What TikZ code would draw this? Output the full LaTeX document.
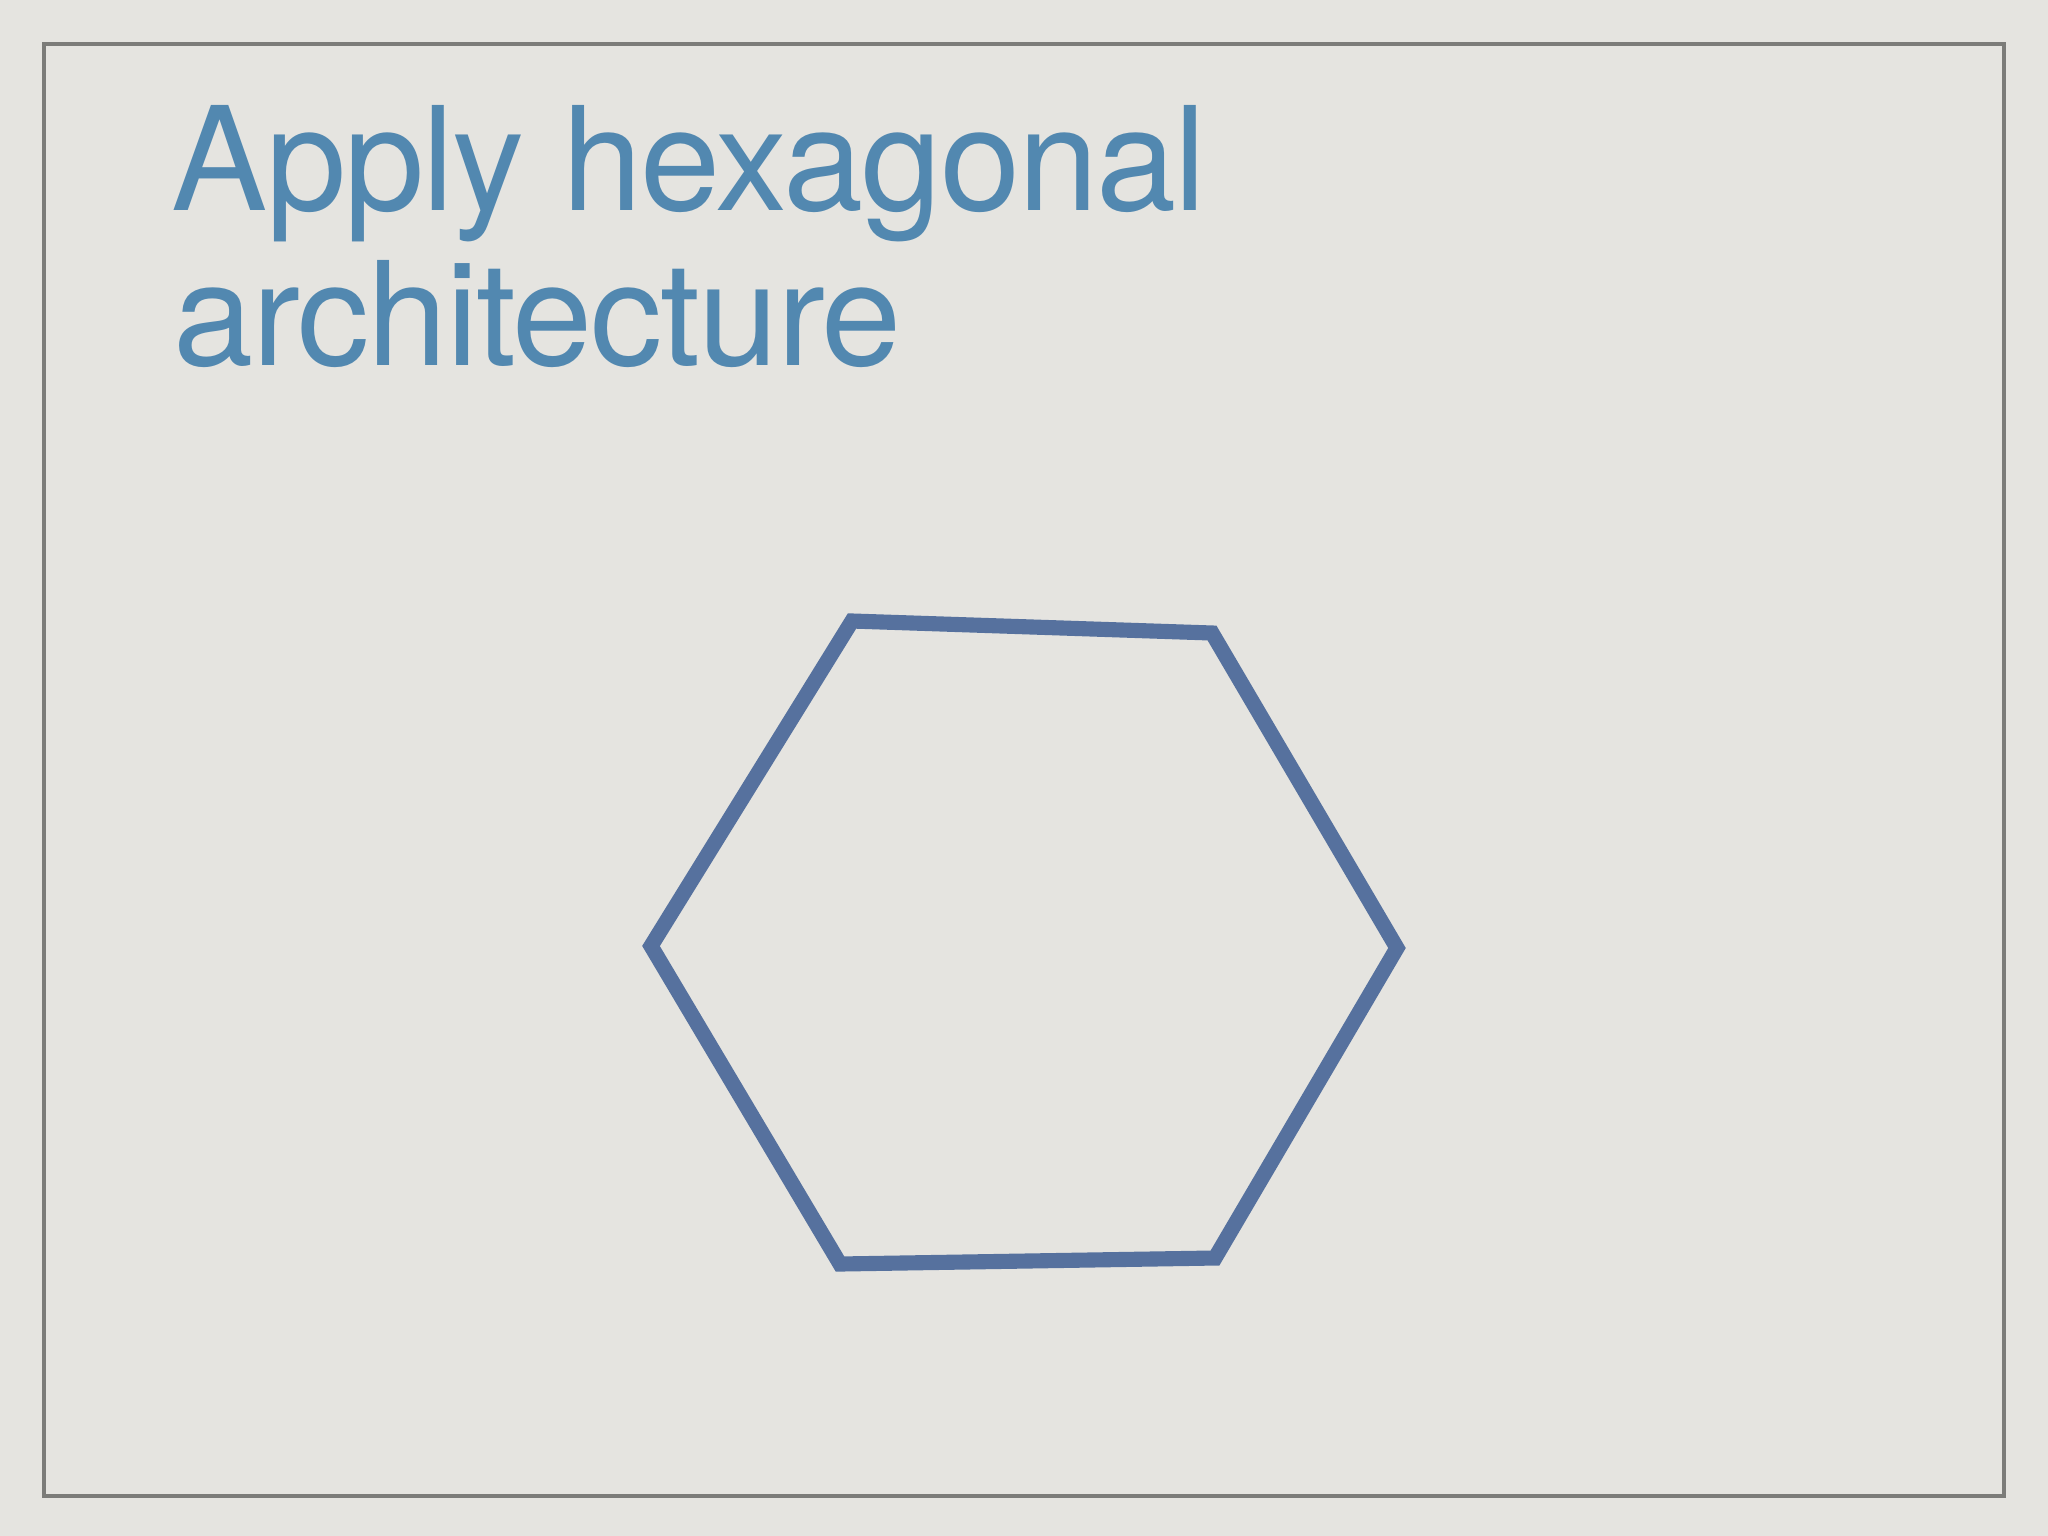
\documentclass[tikz,border=0pt]{standalone}
\usepackage{fontspec}
\newfontfamily\titlefont[LetterSpace=-1.3]{TeX Gyre Heros}
\definecolor{paper}{RGB}{229,228,224}
\definecolor{framegray}{RGB}{124,124,121}
\definecolor{titleblue}{RGB}{82,136,176}
\definecolor{hexblue}{RGB}{86,113,158}

\tikzstyle{title} = [anchor=base west, inner sep=0pt, text=titleblue,
    font=\titlefont\fontsize{41}{49}\selectfont]
\tikzstyle{slideframe} = [draw=framegray, line width=1.15pt]
\tikzstyle{hexline} = [draw=hexblue, line width=4.3pt, line join=miter]

\begin{document}
\begin{tikzpicture}[x=0.01cm, y=-0.01cm]
    \fill [paper] (0,0) rectangle (2048,1536);
    \useasboundingbox (0,0) rectangle (2048,1536);
    \draw [slideframe] (44,44) rectangle (2004,1496);

    \node [title] (line1) at (171,210) {Apply hexagonal};
    \node [title] (line2) at (173,365) {architecture};

    % hexagon corners
    \coordinate (hexa) at (852,621);
    \coordinate (hexb) at (1212,633);
    \coordinate (hexc) at (1397,948);
    \coordinate (hexd) at (1215,1258);
    \coordinate (hexe) at (840,1264);
    \coordinate (hexf) at (651,946);

    \draw [hexline] (hexa) -- (hexb) -- (hexc) -- (hexd) -- (hexe) -- (hexf) -- cycle;
\end{tikzpicture}
\end{document}
